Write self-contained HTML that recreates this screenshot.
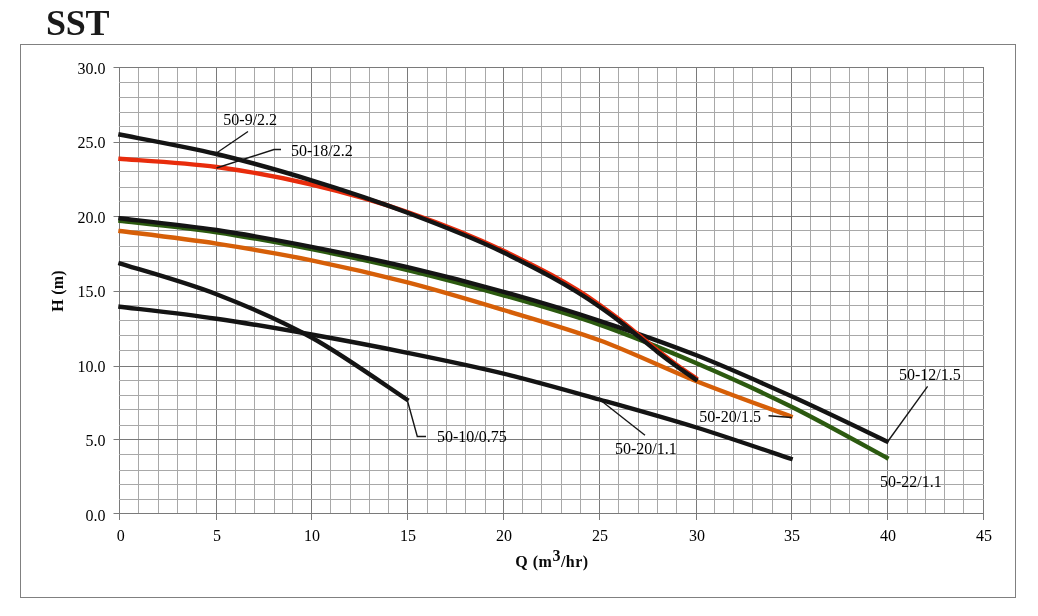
<!DOCTYPE html>
<html><head><meta charset="utf-8"><title>SST</title>
<style>
html,body{margin:0;padding:0;background:#fff;}
body{width:1038px;height:616px;overflow:hidden;position:relative;font-family:"Liberation Serif",serif;}
h1{position:absolute;left:46px;top:3px;margin:0;font:bold 36px/40px "Liberation Serif",serif;color:#1a1a1a;letter-spacing:-0.25px;will-change:transform;}
.frame{position:absolute;left:20px;top:44px;width:994px;height:552px;border:1px solid #808080;box-sizing:content-box;}
svg{position:absolute;left:0;top:0;will-change:transform;}
.t{font:16px "Liberation Serif",serif;fill:#000;}
.b{font:bold 16px "Liberation Serif",serif;fill:#0a0a0a;letter-spacing:0.2px;}
</style></head><body>
<h1>SST</h1>
<div class="frame"></div>
<svg width="1038" height="616" viewBox="0 0 1038 616" shape-rendering="auto">
<line x1="119.5" y1="67.0" x2="119.5" y2="514.0" stroke="#7a7a7a"/>
<line x1="138.5" y1="67.0" x2="138.5" y2="514.0" stroke="#a8a8a8"/>
<line x1="158.5" y1="67.0" x2="158.5" y2="514.0" stroke="#a8a8a8"/>
<line x1="177.5" y1="67.0" x2="177.5" y2="514.0" stroke="#a8a8a8"/>
<line x1="196.5" y1="67.0" x2="196.5" y2="514.0" stroke="#a8a8a8"/>
<line x1="216.5" y1="67.0" x2="216.5" y2="514.0" stroke="#7a7a7a"/>
<line x1="235.5" y1="67.0" x2="235.5" y2="514.0" stroke="#a8a8a8"/>
<line x1="254.5" y1="67.0" x2="254.5" y2="514.0" stroke="#a8a8a8"/>
<line x1="274.5" y1="67.0" x2="274.5" y2="514.0" stroke="#a8a8a8"/>
<line x1="292.5" y1="67.0" x2="292.5" y2="514.0" stroke="#a8a8a8"/>
<line x1="311.5" y1="67.0" x2="311.5" y2="514.0" stroke="#7a7a7a"/>
<line x1="330.5" y1="67.0" x2="330.5" y2="514.0" stroke="#a8a8a8"/>
<line x1="350.5" y1="67.0" x2="350.5" y2="514.0" stroke="#a8a8a8"/>
<line x1="369.5" y1="67.0" x2="369.5" y2="514.0" stroke="#a8a8a8"/>
<line x1="388.5" y1="67.0" x2="388.5" y2="514.0" stroke="#a8a8a8"/>
<line x1="407.5" y1="67.0" x2="407.5" y2="514.0" stroke="#7a7a7a"/>
<line x1="427.5" y1="67.0" x2="427.5" y2="514.0" stroke="#a8a8a8"/>
<line x1="446.5" y1="67.0" x2="446.5" y2="514.0" stroke="#a8a8a8"/>
<line x1="465.5" y1="67.0" x2="465.5" y2="514.0" stroke="#a8a8a8"/>
<line x1="485.5" y1="67.0" x2="485.5" y2="514.0" stroke="#a8a8a8"/>
<line x1="503.5" y1="67.0" x2="503.5" y2="514.0" stroke="#7a7a7a"/>
<line x1="522.5" y1="67.0" x2="522.5" y2="514.0" stroke="#a8a8a8"/>
<line x1="541.5" y1="67.0" x2="541.5" y2="514.0" stroke="#a8a8a8"/>
<line x1="561.5" y1="67.0" x2="561.5" y2="514.0" stroke="#a8a8a8"/>
<line x1="580.5" y1="67.0" x2="580.5" y2="514.0" stroke="#a8a8a8"/>
<line x1="599.5" y1="67.0" x2="599.5" y2="514.0" stroke="#7a7a7a"/>
<line x1="618.5" y1="67.0" x2="618.5" y2="514.0" stroke="#a8a8a8"/>
<line x1="638.5" y1="67.0" x2="638.5" y2="514.0" stroke="#a8a8a8"/>
<line x1="657.5" y1="67.0" x2="657.5" y2="514.0" stroke="#a8a8a8"/>
<line x1="676.5" y1="67.0" x2="676.5" y2="514.0" stroke="#a8a8a8"/>
<line x1="696.5" y1="67.0" x2="696.5" y2="514.0" stroke="#7a7a7a"/>
<line x1="714.5" y1="67.0" x2="714.5" y2="514.0" stroke="#a8a8a8"/>
<line x1="733.5" y1="67.0" x2="733.5" y2="514.0" stroke="#a8a8a8"/>
<line x1="752.5" y1="67.0" x2="752.5" y2="514.0" stroke="#a8a8a8"/>
<line x1="772.5" y1="67.0" x2="772.5" y2="514.0" stroke="#a8a8a8"/>
<line x1="791.5" y1="67.0" x2="791.5" y2="514.0" stroke="#7a7a7a"/>
<line x1="810.5" y1="67.0" x2="810.5" y2="514.0" stroke="#a8a8a8"/>
<line x1="830.5" y1="67.0" x2="830.5" y2="514.0" stroke="#a8a8a8"/>
<line x1="849.5" y1="67.0" x2="849.5" y2="514.0" stroke="#a8a8a8"/>
<line x1="868.5" y1="67.0" x2="868.5" y2="514.0" stroke="#a8a8a8"/>
<line x1="887.5" y1="67.0" x2="887.5" y2="514.0" stroke="#7a7a7a"/>
<line x1="907.5" y1="67.0" x2="907.5" y2="514.0" stroke="#a8a8a8"/>
<line x1="925.5" y1="67.0" x2="925.5" y2="514.0" stroke="#a8a8a8"/>
<line x1="944.5" y1="67.0" x2="944.5" y2="514.0" stroke="#a8a8a8"/>
<line x1="963.5" y1="67.0" x2="963.5" y2="514.0" stroke="#a8a8a8"/>
<line x1="983.5" y1="67.0" x2="983.5" y2="514.0" stroke="#7a7a7a"/>
<line x1="119.0" y1="513.5" x2="984.0" y2="513.5" stroke="#7a7a7a"/>
<line x1="119.0" y1="499.5" x2="984.0" y2="499.5" stroke="#a8a8a8"/>
<line x1="119.0" y1="484.5" x2="984.0" y2="484.5" stroke="#a8a8a8"/>
<line x1="119.0" y1="470.5" x2="984.0" y2="470.5" stroke="#a8a8a8"/>
<line x1="119.0" y1="454.5" x2="984.0" y2="454.5" stroke="#a8a8a8"/>
<line x1="119.0" y1="439.5" x2="984.0" y2="439.5" stroke="#7a7a7a"/>
<line x1="119.0" y1="425.5" x2="984.0" y2="425.5" stroke="#a8a8a8"/>
<line x1="119.0" y1="409.5" x2="984.0" y2="409.5" stroke="#a8a8a8"/>
<line x1="119.0" y1="395.5" x2="984.0" y2="395.5" stroke="#a8a8a8"/>
<line x1="119.0" y1="380.5" x2="984.0" y2="380.5" stroke="#a8a8a8"/>
<line x1="119.0" y1="366.5" x2="984.0" y2="366.5" stroke="#7a7a7a"/>
<line x1="119.0" y1="350.5" x2="984.0" y2="350.5" stroke="#a8a8a8"/>
<line x1="119.0" y1="335.5" x2="984.0" y2="335.5" stroke="#a8a8a8"/>
<line x1="119.0" y1="320.5" x2="984.0" y2="320.5" stroke="#a8a8a8"/>
<line x1="119.0" y1="305.5" x2="984.0" y2="305.5" stroke="#a8a8a8"/>
<line x1="119.0" y1="291.5" x2="984.0" y2="291.5" stroke="#7a7a7a"/>
<line x1="119.0" y1="275.5" x2="984.0" y2="275.5" stroke="#a8a8a8"/>
<line x1="119.0" y1="261.5" x2="984.0" y2="261.5" stroke="#a8a8a8"/>
<line x1="119.0" y1="246.5" x2="984.0" y2="246.5" stroke="#a8a8a8"/>
<line x1="119.0" y1="230.5" x2="984.0" y2="230.5" stroke="#a8a8a8"/>
<line x1="119.0" y1="216.5" x2="984.0" y2="216.5" stroke="#7a7a7a"/>
<line x1="119.0" y1="201.5" x2="984.0" y2="201.5" stroke="#a8a8a8"/>
<line x1="119.0" y1="187.5" x2="984.0" y2="187.5" stroke="#a8a8a8"/>
<line x1="119.0" y1="171.5" x2="984.0" y2="171.5" stroke="#a8a8a8"/>
<line x1="119.0" y1="157.5" x2="984.0" y2="157.5" stroke="#a8a8a8"/>
<line x1="119.0" y1="142.5" x2="984.0" y2="142.5" stroke="#7a7a7a"/>
<line x1="119.0" y1="126.5" x2="984.0" y2="126.5" stroke="#a8a8a8"/>
<line x1="119.0" y1="112.5" x2="984.0" y2="112.5" stroke="#a8a8a8"/>
<line x1="119.0" y1="97.5" x2="984.0" y2="97.5" stroke="#a8a8a8"/>
<line x1="119.0" y1="82.5" x2="984.0" y2="82.5" stroke="#a8a8a8"/>
<line x1="119.0" y1="67.5" x2="984.0" y2="67.5" stroke="#7a7a7a"/>
<line x1="119.5" y1="514.0" x2="119.5" y2="520.0" stroke="#7a7a7a"/>
<line x1="216.5" y1="514.0" x2="216.5" y2="520.0" stroke="#7a7a7a"/>
<line x1="311.5" y1="514.0" x2="311.5" y2="520.0" stroke="#7a7a7a"/>
<line x1="407.5" y1="514.0" x2="407.5" y2="520.0" stroke="#7a7a7a"/>
<line x1="503.5" y1="514.0" x2="503.5" y2="520.0" stroke="#7a7a7a"/>
<line x1="599.5" y1="514.0" x2="599.5" y2="520.0" stroke="#7a7a7a"/>
<line x1="696.5" y1="514.0" x2="696.5" y2="520.0" stroke="#7a7a7a"/>
<line x1="791.5" y1="514.0" x2="791.5" y2="520.0" stroke="#7a7a7a"/>
<line x1="887.5" y1="514.0" x2="887.5" y2="520.0" stroke="#7a7a7a"/>
<line x1="983.5" y1="514.0" x2="983.5" y2="520.0" stroke="#7a7a7a"/>
<line x1="113.5" y1="513.5" x2="119.0" y2="513.5" stroke="#7a7a7a"/>
<line x1="113.5" y1="439.5" x2="119.0" y2="439.5" stroke="#7a7a7a"/>
<line x1="113.5" y1="366.5" x2="119.0" y2="366.5" stroke="#7a7a7a"/>
<line x1="113.5" y1="291.5" x2="119.0" y2="291.5" stroke="#7a7a7a"/>
<line x1="113.5" y1="216.5" x2="119.0" y2="216.5" stroke="#7a7a7a"/>
<line x1="113.5" y1="142.5" x2="119.0" y2="142.5" stroke="#7a7a7a"/>
<line x1="113.5" y1="67.5" x2="119.0" y2="67.5" stroke="#7a7a7a"/>
<path d="M118.31,230.85 L119.50,231.00 C135.67,233.10 184.17,238.65 216.50,243.60 C248.17,248.45 279.83,253.88 311.50,260.30 C343.50,266.79 375.50,274.12 407.50,282.40 C439.50,290.68 471.50,300.35 503.50,310.00 C535.50,319.65 567.50,328.51 599.50,340.30 C631.83,352.21 664.17,368.35 696.50,381.20 C728.17,393.78 775.67,410.78 791.50,416.70 L792.62,417.12" fill="none" stroke="#d65f08" stroke-width="4.4" stroke-linecap="butt" stroke-linejoin="round"/>
<path d="M118.31,220.66 L119.50,220.80 C135.67,222.70 184.17,227.40 216.50,232.20 C248.17,236.90 279.83,242.94 311.50,249.20 C343.50,255.53 375.50,262.32 407.50,270.00 C439.50,277.68 471.50,286.18 503.50,295.30 C535.50,304.42 567.50,313.44 599.50,324.70 C631.83,336.08 664.17,349.45 696.50,363.30 C728.17,376.86 759.83,391.08 791.50,406.80 C823.50,422.69 871.50,449.63 887.50,458.20 L888.56,458.77" fill="none" stroke="#2c5a10" stroke-width="4.4" stroke-linecap="butt" stroke-linejoin="round"/>
<path d="M118.31,218.06 L119.50,218.20 C135.67,220.17 184.17,225.17 216.50,230.00 C248.17,234.74 279.83,240.64 311.50,246.80 C343.50,253.03 375.50,259.70 407.50,267.20 C439.50,274.70 471.50,282.87 503.50,291.80 C535.50,300.73 567.50,310.28 599.50,320.80 C631.83,331.43 664.17,342.56 696.50,355.30 C728.17,367.78 759.83,381.98 791.50,396.30 C823.50,410.77 871.50,434.13 887.50,441.70 L888.58,442.21" fill="none" stroke="#141414" stroke-width="4.4" stroke-linecap="butt" stroke-linejoin="round"/>
<path d="M118.36,262.94 L119.50,263.30 C135.67,268.45 184.17,281.66 216.50,294.20 C248.17,306.48 279.83,319.99 311.50,337.50 C343.50,355.19 391.50,389.58 407.50,400.00 L408.51,400.65" fill="none" stroke="#141414" stroke-width="4.4" stroke-linecap="butt" stroke-linejoin="round"/>
<path d="M118.31,306.55 L119.50,306.70 C135.67,308.70 184.17,314.00 216.50,318.70 C248.17,323.30 279.83,328.85 311.50,334.50 C343.50,340.21 375.50,346.28 407.50,352.80 C439.50,359.32 471.50,365.82 503.50,373.60 C535.50,381.38 567.50,390.57 599.50,399.50 C631.83,408.53 664.17,417.47 696.50,427.50 C728.17,437.33 775.67,453.75 791.50,459.00 L792.64,459.38" fill="none" stroke="#141414" stroke-width="4.4" stroke-linecap="butt" stroke-linejoin="round"/>
<path d="M118.30,158.70 L119.50,158.80 C135.67,160.17 184.17,162.64 216.50,167.00 C248.17,171.27 279.83,177.06 311.50,184.50 C343.50,192.02 375.50,200.95 407.50,212.00 C439.50,223.05 471.50,235.35 503.50,250.80 C535.50,266.25 567.50,281.91 599.50,304.70 C605.83,309.21 612.17,313.92 618.50,318.80 C625.17,323.94 631.83,329.41 638.50,334.80 C644.83,339.92 651.17,345.32 657.50,350.30 C663.83,355.28 670.17,360.11 676.50,364.70 C683.17,369.53 693.17,376.20 696.50,378.50 L697.49,379.18" fill="none" stroke="#e82c0c" stroke-width="4.4" stroke-linecap="butt" stroke-linejoin="round"/>
<path d="M118.32,134.26 L119.50,134.50 C135.67,137.75 184.17,146.26 216.50,154.00 C248.17,161.58 279.83,170.58 311.50,180.30 C343.50,190.12 375.50,200.67 407.50,212.70 C439.50,224.73 471.50,236.83 503.50,252.50 C535.50,268.17 567.50,284.31 599.50,306.70 C605.83,311.13 612.17,315.67 618.50,320.50 C625.17,325.58 631.83,331.13 638.50,336.50 C644.83,341.60 651.17,346.95 657.50,351.90 C663.83,356.85 670.17,361.63 676.50,366.20 C683.17,371.01 693.17,377.70 696.50,380.00 L697.49,380.68" fill="none" stroke="#141414" stroke-width="4.4" stroke-linecap="butt" stroke-linejoin="round"/>
<polyline points="248.0,131.5 216.5,153.0" fill="none" stroke="#161616" stroke-width="1.4"/>
<polyline points="281.0,149.5 274.0,149.5 216.5,168.0" fill="none" stroke="#161616" stroke-width="1.4"/>
<polyline points="927.6,386.3 888.1,441.0" fill="none" stroke="#161616" stroke-width="1.4"/>
<polyline points="768.5,415.8 792.0,417.5" fill="none" stroke="#161616" stroke-width="1.4"/>
<polyline points="407.5,401.0 417.3,436.5 426.0,436.5" fill="none" stroke="#161616" stroke-width="1.4"/>
<polyline points="601.5,401.0 645.0,435.3" fill="none" stroke="#161616" stroke-width="1.4"/>
<text x="120.7" y="541" text-anchor="middle" class="t">0</text>
<text x="217.0" y="541" text-anchor="middle" class="t">5</text>
<text x="312.0" y="541" text-anchor="middle" class="t">10</text>
<text x="408.0" y="541" text-anchor="middle" class="t">15</text>
<text x="504.0" y="541" text-anchor="middle" class="t">20</text>
<text x="600.0" y="541" text-anchor="middle" class="t">25</text>
<text x="697.0" y="541" text-anchor="middle" class="t">30</text>
<text x="792.0" y="541" text-anchor="middle" class="t">35</text>
<text x="888.0" y="541" text-anchor="middle" class="t">40</text>
<text x="984.0" y="541" text-anchor="middle" class="t">45</text>
<text x="105.5" y="521.2" text-anchor="end" class="t">0.0</text>
<text x="105.5" y="445.8" text-anchor="end" class="t">5.0</text>
<text x="105.5" y="372.0" text-anchor="end" class="t">10.0</text>
<text x="105.5" y="297.0" text-anchor="end" class="t">15.0</text>
<text x="105.5" y="222.5" text-anchor="end" class="t">20.0</text>
<text x="105.5" y="148.0" text-anchor="end" class="t">25.0</text>
<text x="105.5" y="74.0" text-anchor="end" class="t">30.0</text>
<text x="223.3" y="125.0" class="t">50-9/2.2</text>
<text x="291.0" y="156.0" class="t">50-18/2.2</text>
<text x="899.0" y="380.0" class="t">50-12/1.5</text>
<text x="699.3" y="421.8" class="t">50-20/1.5</text>
<text x="437.0" y="442.0" class="t">50-10/0.75</text>
<text x="615.0" y="453.6" class="t">50-20/1.1</text>
<text x="880.0" y="487.0" class="t">50-22/1.1</text>
<text x="552" y="567" text-anchor="middle" class="b" style="letter-spacing:0.5px">Q (m<tspan dy="-6" font-size="16">3</tspan><tspan dy="6">/hr)</tspan></text>
<text transform="translate(63,291) rotate(-90)" text-anchor="middle" class="b">H (m)</text>
</svg>
</body></html>
